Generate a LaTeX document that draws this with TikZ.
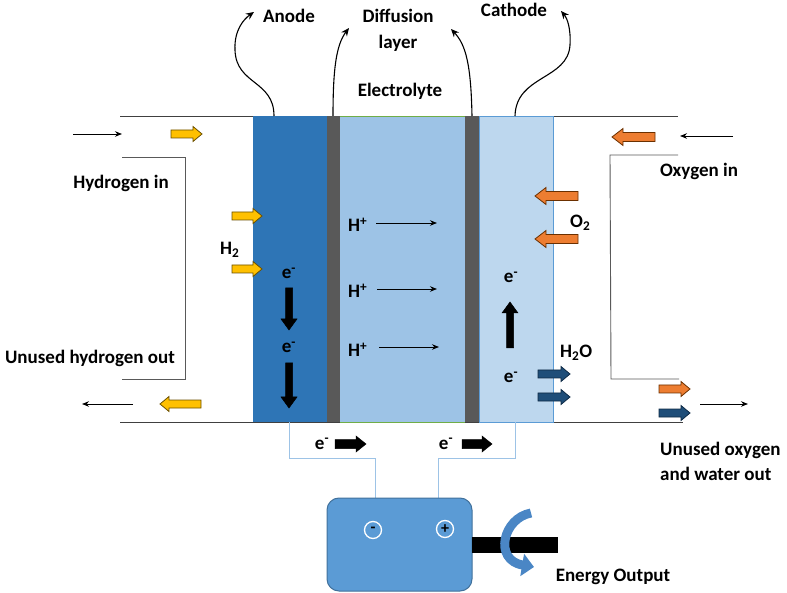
\documentclass[tikz,border=0pt]{standalone}
\usepackage{fontspec}
\setmainfont{Carlito}
\usetikzlibrary{arrows.meta}
\definecolor{anodeblue}{HTML}{2E75B6}
\definecolor{elecblue}{HTML}{9DC3E6}
\definecolor{cathblue}{HTML}{BDD7EE}
\definecolor{cathedge}{HTML}{5B9BD5}
\definecolor{layergray}{HTML}{595959}
\definecolor{lineg}{HTML}{404040}
\definecolor{greenedge}{HTML}{70AD47}
\definecolor{wireblue}{HTML}{9DC3E6}
\definecolor{battfill}{HTML}{5B9BD5}
\definecolor{battedge}{HTML}{41719C}
\definecolor{hyellow}{HTML}{FFC000}
\definecolor{hyedge}{HTML}{6B5000}
\definecolor{oorange}{HTML}{ED7D31}
\definecolor{ooedge}{HTML}{6B3000}
\definecolor{wblue}{HTML}{1F4E79}
\definecolor{wbedge}{HTML}{0E2A45}
\definecolor{energyblue}{HTML}{4A86C5}
\newcommand\blockarrow[7]{%
  \begin{scope}[shift={#1},rotate=#2]
    \filldraw[#4] (0,-#5) -- ({#3-#7},-#5) -- ({#3-#7},-#6) -- (#3,0) -- ({#3-#7},#6) -- ({#3-#7},#5) -- (0,#5) -- cycle;
  \end{scope}}
\tikzset{
  lbl/.style={font=\fontsize{19}{24}\selectfont\bfseries, inner sep=0pt},
  thinarrow/.style={line width=0.9pt, -{Stealth[length=7pt,width=5.5pt]}},
  curvearrow/.style={line width=1.1pt, -{Stealth[length=8pt,width=7pt]}},
  frameline/.style={lineg, line width=0.9pt},
  bracketline/.style={layergray, line width=0.9pt},
  wire/.style={wireblue, line width=1pt},
  yarr/.style={fill=hyellow, draw=hyedge, line width=0.8pt},
  oarr/.style={fill=oorange, draw=ooedge, line width=0.8pt},
  warr/.style={fill=wblue, draw=wbedge, line width=0.8pt},
  karr/.style={fill=black, draw=black, line width=0.5pt}
}
\begin{document}
\begin{tikzpicture}[x=1pt,y=-1pt]
\useasboundingbox (0,0) rectangle (787,593);
% frame lines
\draw[frameline] (120,116) -- (678,116);
\draw[frameline] (120,422) -- (683,422);
\draw[bracketline] (122,157) -- (185,157) -- (185,379) -- (122,379);
\draw[bracketline] (678,155) -- (610,155) -- (611,379) -- (679,379);
% cell
\fill[anodeblue] (253,116) rectangle (327,422);
\fill[layergray] (327,116) rectangle (340,422);
\fill[elecblue] (340,116) rectangle (465,422);
\draw[greenedge, line width=0.8pt] (340,116) -- (465,116);
\draw[greenedge, line width=0.8pt] (340,422) -- (465,422);
\fill[layergray] (465,116) rectangle (479,422);
\filldraw[fill=cathblue, draw=cathedge, line width=0.9pt] (479,116) rectangle (553,422);
% top labels
\node[lbl, anchor=base] (anode) at (289,23) {Anode};
\node[lbl, anchor=base] (diff1) at (398,23) {Diffusion};
\node[lbl, anchor=base] (diff2) at (398,49) {layer};
\node[lbl, anchor=base] (cath) at (514,17) {Cathode};
\node[lbl, anchor=base] (elec) at (400,97) {Electrolyte};
% curved pointers
\coordinate (pa0) at (274,116); \coordinate (pa1) at (254,12);
\coordinate (pd0) at (333,116); \coordinate (pd1) at (349,28);
\coordinate (pc0) at (472,116); \coordinate (pc1) at (451,29);
\coordinate (pk0) at (515,116); \coordinate (pk1) at (561,11);
\draw[curvearrow] (pa0) .. controls (274,80) and (236,85) .. (235,50) .. controls (234,30) and (244,19) .. (pa1);
\draw[curvearrow] (pd0) .. controls (333,70) and (336,45) .. (pd1);
\draw[curvearrow] (pc0) .. controls (471,65) and (466,45) .. (pc1);
\draw[curvearrow] (pk0) .. controls (516,75) and (568,80) .. (570,45) .. controls (571,28) and (567,18) .. (pk1);
% side labels
\node[lbl, anchor=base] (hin) at (121,189) {Hydrogen in};
\node[lbl, anchor=base] (hout) at (90,363) {Unused hydrogen out};
\node[lbl, anchor=base west] (h2) at (220,255) {H\textsubscript{2}};
\node[lbl, anchor=base] (oin) at (699,177) {Oxygen in};
\node[lbl, anchor=base west] (o2) at (570,228) {O\textsubscript{2}};
\node[lbl, anchor=base west] (h2o) at (560,358) {H\textsubscript{2}O};
\node[lbl, anchor=base west] (oout1) at (660,455) {Unused oxygen};
\node[lbl, anchor=base west] (oout2) at (660,480) {and water out};
% thin flow arrows
\coordinate (f1s) at (73,134); \coordinate (f1e) at (122,134);
\coordinate (f2s) at (133,404); \coordinate (f2e) at (82,404);
\coordinate (f3s) at (733,136); \coordinate (f3e) at (680,136);
\coordinate (f4s) at (700,404); \coordinate (f4e) at (748,404);
\draw[thinarrow] (f1s) -- (f1e);
\draw[thinarrow] (f2s) -- (f2e);
\draw[thinarrow] (f3s) -- (f3e);
\draw[thinarrow] (f4s) -- (f4e);
% block arrows: hydrogen
\blockarrow{(171,134)}{0}{31}{yarr}{4}{7.5}{9}
\blockarrow{(232,216)}{0}{30}{yarr}{4}{7.5}{9}
\blockarrow{(232,269)}{0}{30}{yarr}{4}{7.5}{9}
\blockarrow{(201,404)}{180}{41}{yarr}{4}{7.5}{9}
% oxygen
\blockarrow{(655,137)}{180}{43}{oarr}{4.5}{8.5}{11}
\blockarrow{(578,196)}{180}{43}{oarr}{4.5}{8.5}{11}
\blockarrow{(578,239)}{180}{43}{oarr}{4.5}{8.5}{11}
\blockarrow{(659,389)}{0}{31}{oarr}{4}{7.5}{9}
% water
\blockarrow{(538,374)}{0}{32}{warr}{4}{7.5}{9}
\blockarrow{(538,397)}{0}{32}{warr}{4}{7.5}{9}
\blockarrow{(659,413)}{0}{31}{warr}{4}{7.5}{9}
% electrons in cell
\node[lbl, anchor=base] (e1) at (289,279) {e\textsuperscript{-}};
\node[lbl, anchor=base] (e2) at (289,353) {e\textsuperscript{-}};
\node[lbl, anchor=base] (e3) at (511,283) {e\textsuperscript{-}};
\node[lbl, anchor=base] (e4) at (511,383) {e\textsuperscript{-}};
\blockarrow{(289,288)}{-90}{42}{karr}{3.5}{8}{11}
\blockarrow{(289,363)}{-90}{45}{karr}{3.5}{8}{11}
\blockarrow{(510,348)}{90}{46}{karr}{3.5}{8}{11}
% protons
\node[lbl, anchor=base west] (hp1) at (348,232) {H\textsuperscript{+}};
\node[lbl, anchor=base west] (hp2) at (348,298) {H\textsuperscript{+}};
\node[lbl, anchor=base west] (hp3) at (348,357) {H\textsuperscript{+}};
\coordinate (p1s) at (376,223); \coordinate (p1e) at (437,223);
\coordinate (p2s) at (377,289); \coordinate (p2e) at (437,289);
\coordinate (p3s) at (379,347); \coordinate (p3e) at (439,347);
\draw[thinarrow] (p1s) -- (p1e);
\draw[thinarrow] (p2s) -- (p2e);
\draw[thinarrow] (p3s) -- (p3e);
% external circuit
\draw[wire] (289,422) -- (289,458) -- (375,458) -- (375,498);
\draw[wire] (515,422) -- (515,458) -- (438,458) -- (438,498);
\node[lbl, anchor=base] (e5) at (322,449) {e\textsuperscript{-}};
\node[lbl, anchor=base] (e6) at (446,449) {e\textsuperscript{-}};
\blockarrow{(335,444)}{0}{31}{karr}{4.5}{8}{10}
\blockarrow{(462,444)}{0}{30}{karr}{4.5}{8}{10}
% battery / load
\filldraw[fill=battfill, draw=battedge, line width=1pt, rounded corners=12pt] (327,498) rectangle (472,591);
\node[circle, draw=white, line width=1.3pt, minimum width=17pt, inner sep=0pt, font=\fontsize{16}{16}\selectfont\bfseries] (minus) at (373,530) {-};
\node[circle, draw=white, line width=1.3pt, minimum width=17pt, inner sep=0pt, font=\fontsize{16}{16}\selectfont\bfseries] (plus) at (445,529) {+};
\fill[black] (472,537) rectangle (558,553);
\coordinate (en0) at (531,513); \coordinate (en1) at (534,567);
\draw[energyblue, line width=9pt, -{Triangle[length=12pt,width=22pt]}] (en0) .. controls (503,518) and (493,560) .. (en1);
\node[lbl, anchor=base] (eout) at (613,581) {Energy Output};
\end{tikzpicture}
\end{document}
